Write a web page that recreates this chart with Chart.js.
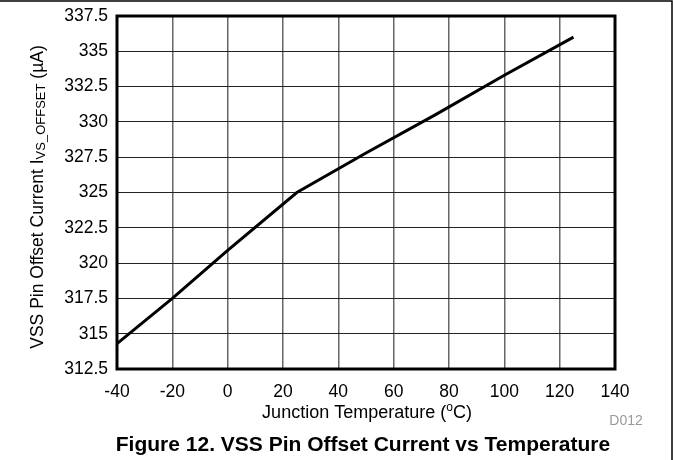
<!DOCTYPE html>
<html>
<head>
<meta charset="utf-8">
<script src="https://cdn.jsdelivr.net/npm/chart.js@4/dist/chart.umd.min.js"></script>
<style>
    html, body { margin: 0; padding: 0; background: #fff; }
    #wrap { width: 673px; height: 460px; position: relative; }
</style>
</head>
<body>
<div id="wrap"><canvas id="offsetChart" width="673" height="460"></canvas></div>
<script>
// junction temperature (C) and VSS pin offset current (uA)
const temps = [-40, -20, 0, 25, 50, 75, 100, 125];
const currents = [314.3, 317.5, 320.9, 325.0, 327.8, 330.5, 333.3, 336.0];

const xTicks = [-40, -20, 0, 20, 40, 60, 80, 100, 120, 140];
const yTicks = [312.5, 315, 317.5, 320, 322.5, 325, 327.5, 330, 332.5, 335, 337.5];

const FONT = 'Arial, "Liberation Sans", sans-serif';

// titles with sub/superscripts, caption, frame and plot border
const decorations = {
    id: 'decorations',
    afterDraw(chart) {
        const ctx = chart.ctx;
        const a = chart.chartArea;
        ctx.save();

        // page frame
        ctx.strokeStyle = '#000';
        ctx.lineWidth = 1.5;
        ctx.beginPath();
        ctx.moveTo(0, 1);
        ctx.lineTo(672, 1);
        ctx.lineTo(672, 460);
        ctx.stroke();

        // plot border
        ctx.lineWidth = 3;
        ctx.strokeRect(a.left, a.top, a.right - a.left, a.bottom - a.top);

        ctx.fillStyle = '#000';
        ctx.textBaseline = 'middle';

        // y title
        const parts = [
            ['VSS Pin Offset Current I', 17.5, 0],
            ['VS_OFFSET', 13, 3],
            [' (\u00b5A)', 17.5, 0]
        ];
        let total = 0;
        parts.forEach(p => { ctx.font = p[1] + 'px ' + FONT; total += ctx.measureText(p[0]).width; });
        ctx.translate(38, 197);
        ctx.rotate(-Math.PI / 2);
        let x = -total / 2;
        ctx.textAlign = 'left';
        parts.forEach(p => {
            ctx.font = p[1] + 'px ' + FONT;
            ctx.fillText(p[0], x, p[2]);
            x += ctx.measureText(p[0]).width;
        });
        ctx.setTransform(1, 0, 0, 1, 0, 0);

        // x title
        const xparts = [
            ['Junction Temperature (', 18, 0],
            ['o', 12, -5],
            ['C)', 18, 0]
        ];
        total = 0;
        xparts.forEach(p => { ctx.font = p[1] + 'px ' + FONT; total += ctx.measureText(p[0]).width; });
        x = 367 - total / 2;
        xparts.forEach(p => {
            ctx.font = p[1] + 'px ' + FONT;
            ctx.fillText(p[0], x, 413 + p[2]);
            x += ctx.measureText(p[0]).width;
        });

        // figure id
        ctx.fillStyle = '#999';
        ctx.font = '14px ' + FONT;
        ctx.textAlign = 'center';
        ctx.fillText('D012', 626, 421);

        // caption
        ctx.fillStyle = '#000';
        ctx.font = 'bold 21px ' + FONT;
        ctx.fillText('Figure 12. VSS Pin Offset Current vs Temperature', 363, 445);

        ctx.restore();
    }
};

new Chart(document.getElementById('offsetChart'), {
    type: 'line',
    data: {
        datasets: [
            {
                label: 'I VS_OFFSET',
                data: temps.map((t, i) => ({ x: t, y: currents[i] })),
                borderColor: '#000',
                borderWidth: 3,
                pointRadius: 0,
                tension: 0,
                fill: false
            }
        ]
    },
    options: {
        responsive: false,
        animation: false,
        devicePixelRatio: 1,
        layout: { padding: { left: 0, top: 16, right: 58, bottom: 0 } },
        plugins: {
            legend: { display: false },
            tooltip: { enabled: false }
        },
        scales: {
            x: {
                type: 'linear',
                min: -40,
                max: 140,
                afterBuildTicks: s => { s.ticks = xTicks.map(v => ({ value: v })); },
                afterFit: s => { s.height = 91; s.paddingLeft = 0; s.paddingRight = 0; },
                grid: { color: '#666', lineWidth: 1.5, drawTicks: false },
                border: { display: false },
                ticks: { color: '#000', font: { family: FONT, size: 17.5 }, padding: 13, maxRotation: 0 }
            },
            y: {
                min: 312.5,
                max: 337.5,
                afterBuildTicks: s => { s.ticks = yTicks.map(v => ({ value: v })); },
                afterFit: s => { s.width = 117; s.paddingTop = 0; s.paddingBottom = 0; },
                grid: { color: '#222', lineWidth: 1, drawTicks: false },
                border: { display: false },
                ticks: { color: '#000', font: { family: FONT, size: 17.5 }, padding: 9 }
            }
        }
    },
    plugins: [decorations]
});
</script>
</body>
</html>
